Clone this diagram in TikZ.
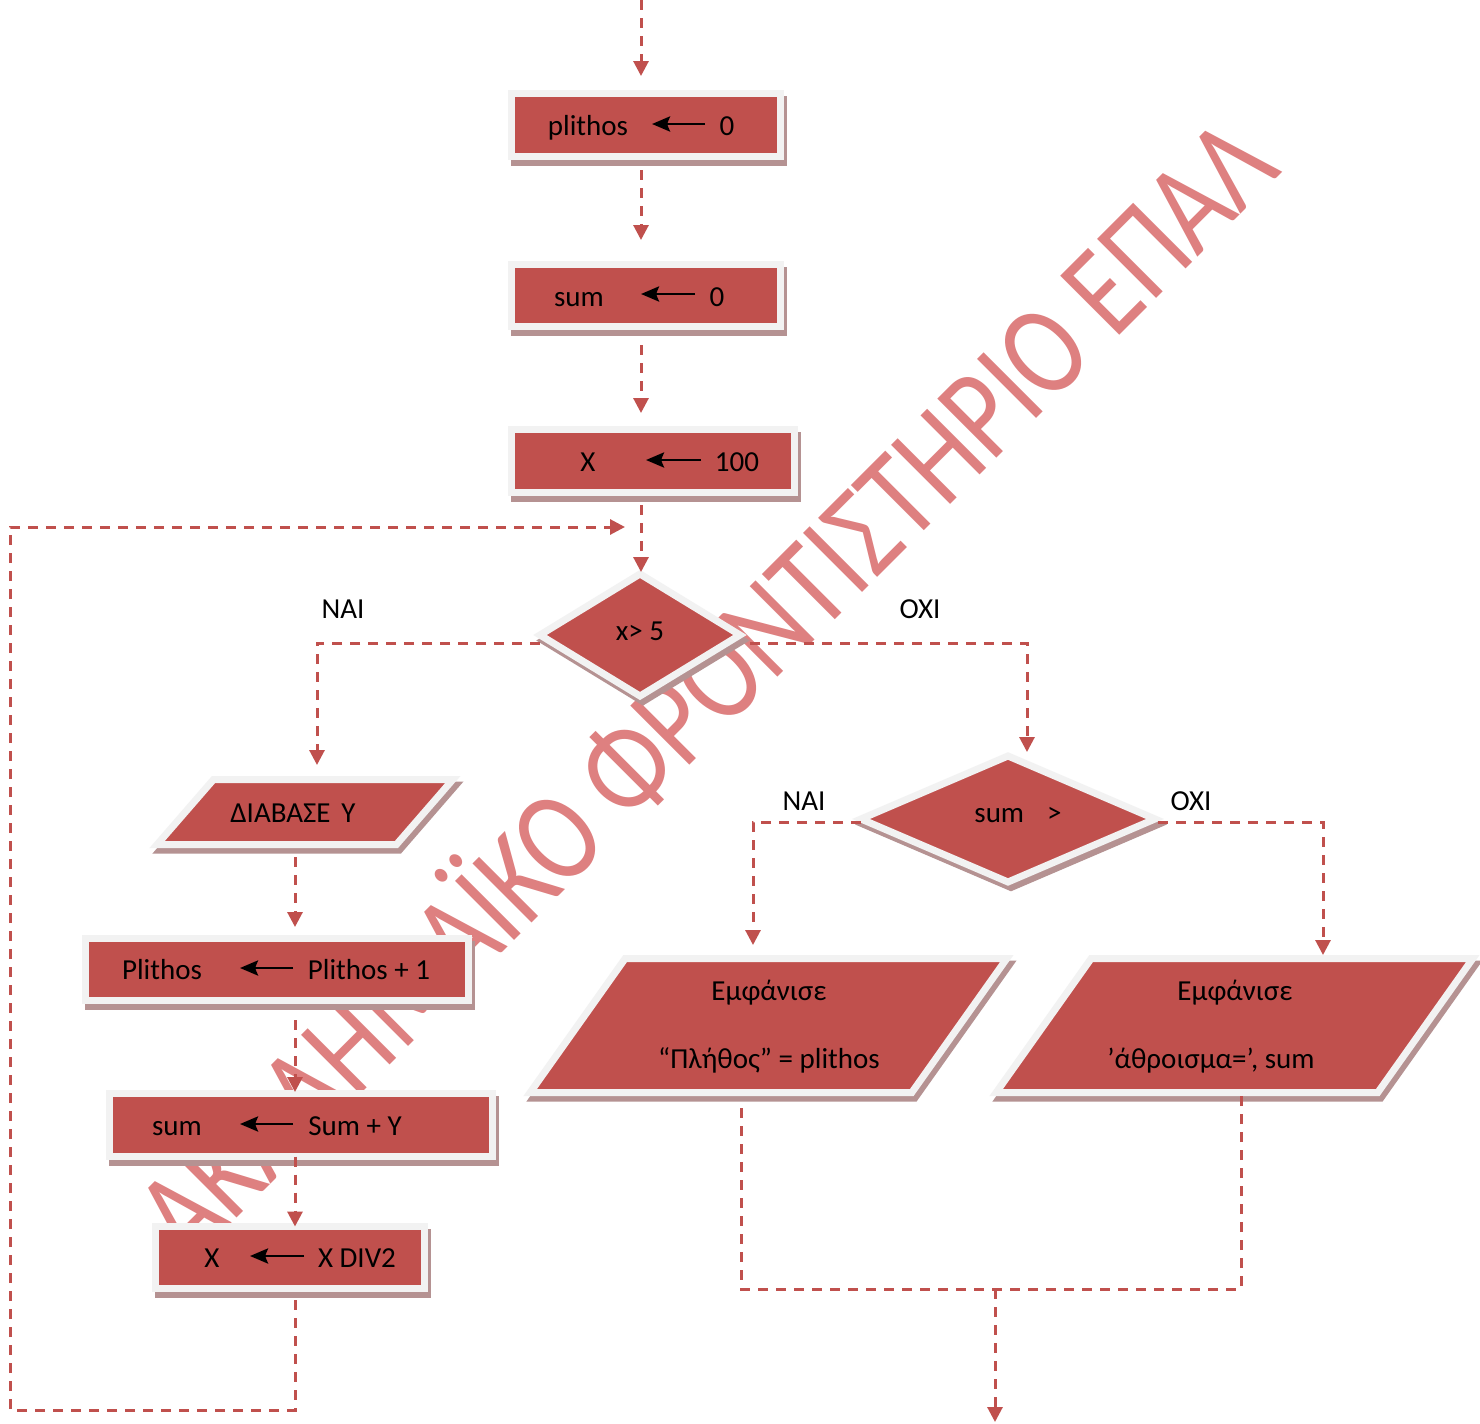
\documentclass[tikz,border=0pt]{standalone}
\usepackage{fontspec}
\setmainfont{Carlito}
\usepackage{graphicx}
\usetikzlibrary{shapes.geometric,arrows.meta,calc}
\definecolor{myred}{HTML}{C0504D}
\definecolor{bord}{HTML}{F2F2F2}
\definecolor{shad}{HTML}{B59292}
\definecolor{wmc}{HTML}{DE8080}
\tikzset{
  shp/.style={fill=myred, draw=bord, line width=3.5pt, outer sep=0pt, inner sep=0pt,
    preaction={fill=shad, draw=shad, line width=3.5pt, transform canvas={shift={(1.5pt,-2.75pt)}}}},
  boxn/.style={shp, rectangle},
  dia/.style={shp, diamond},
  anch/.style={rectangle, inner sep=0pt, outer sep=0pt},
  txt/.style={font=\fontsize{14.5}{17}\selectfont, inner sep=0pt, anchor=base, text=black},
  conn/.style={draw=myred, line width=1.5pt, dash pattern=on 5pt off 4pt, -{Triangle[length=7.5pt,width=7.5pt]}},
  plainc/.style={draw=myred, line width=1.5pt, dash pattern=on 5pt off 4pt},
  blk/.style={draw=black, line width=1.4pt, -{Stealth[length=9pt,width=7.5pt,inset=1.5pt]}},
  wmark/.style={font=\fontsize{52.5}{60}\selectfont, text=wmc, rotate=45, anchor=base east, inner sep=0pt},
}
\begin{document}
\begin{tikzpicture}[x=0.5pt,y=-0.5pt]
\useasboundingbox (0,0) rectangle (1480,1424);
\fill[white] (0,0) rectangle (1480,1424);
% watermark
\node[wmark] (wm) at (1283,172) {\scalebox{1}[1.24]{ΑΚΑΔΗΜΑΪΚΟ ΦΡΟΝΤΙΣΤΗΡΙΟ ΕΠΑΛ}};
% shapes
\node[boxn, minimum width=134.5pt, minimum height=31.5pt] (b1) at (646,125) {};
\node[boxn, minimum width=134.5pt, minimum height=31pt] (b2) at (646,295.5) {};
\node[boxn, minimum width=141.5pt, minimum height=31.5pt] (b3) at (653,461) {};
\node[dia, minimum width=100pt, minimum height=61pt] (d1) at (640,635) {};
\node[anch, minimum width=147.85pt, minimum height=32.5pt] (p1) at (305,812) {};
\path[shp] (p1.south west) -- ([xshift=28.2pt]p1.north west) -- (p1.north east) -- ([xshift=-28.2pt]p1.south east) -- cycle;
\node[boxn, minimum width=191.5pt, minimum height=31pt] (b4) at (277,969.5) {};
\node[boxn, minimum width=191.5pt, minimum height=31.5pt] (b5) at (301,1125) {};
\node[boxn, minimum width=134.5pt, minimum height=31pt] (b6) at (290,1257.5) {};
\node[dia, minimum width=147pt, minimum height=63pt] (d2) at (1008,819) {};
\node[anch, minimum width=238.3pt, minimum height=67pt] (p2) at (768.5,1025.5) {};
\path[shp] (p2.south west) -- ([xshift=47.5pt]p2.north west) -- (p2.north east) -- ([xshift=-47.5pt]p2.south east) -- cycle;
\node[anch, minimum width=238.3pt, minimum height=67pt] (p3) at (1234.5,1025.5) {};
\path[shp] (p3.south west) -- ([xshift=47.5pt]p3.north west) -- (p3.north east) -- ([xshift=-47.5pt]p3.south east) -- cycle;
% texts
\node[txt] (t1a) at (588,135) {plithos};
\node[txt] (t1b) at (727,135) {0};
\node[txt] (t2a) at (579,306) {sum};
\node[txt] (t2b) at (717,306) {0};
\node[txt] (t3a) at (588,471) {X};
\node[txt] (t3b) at (737,471) {100};
\node[txt] (t4) at (640,640) {x> 5};
\node[txt] (t5) at (293,822) {ΔΙΑΒΑΣΕ\hspace{5.5pt}Υ};
\node[txt] (t6a) at (162,979) {Plithos};
\node[txt] (t6b) at (369,979) {Plithos + 1};
\node[txt] (t7a) at (177,1135) {sum};
\node[txt] (t7b) at (355,1135) {Sum + Y};
\node[txt] (t8a) at (212,1267) {X};
\node[txt] (t8b) at (357,1267) {X DIV2};
\node[txt] (t9) at (1018,822) {sum\hspace{11.5pt}>};
\node[txt] (t10a) at (769,1000) {Εμφάνισε};
\node[txt] (t10b) at (769,1068) {“Πλήθος” = plithos};
\node[txt] (t11a) at (1235,1000) {Εμφάνισε};
\node[txt] (t11b) at (1211,1068) {’άθροισμα=’, sum};
\node[txt] (l1) at (343,618) {ΝΑΙ};
\node[txt] (l2) at (920,618) {ΟΧΙ};
\node[txt] (l3) at (804,810) {ΝΑΙ};
\node[txt] (l4) at (1191,810) {ΟΧΙ};
% arrows inside boxes
\coordinate (a1t) at (705,124); \coordinate (a1h) at (652,124);
\coordinate (a2t) at (695,294); \coordinate (a2h) at (641,294);
\coordinate (a3t) at (701,460); \coordinate (a3h) at (646,460);
\coordinate (a4t) at (293,968); \coordinate (a4h) at (240,968);
\coordinate (a5t) at (293,1124); \coordinate (a5h) at (240,1124);
\coordinate (a6t) at (304,1256); \coordinate (a6h) at (250,1256);
\draw[blk] (a1t) -- (a1h);
\draw[blk] (a2t) -- (a2h);
\draw[blk] (a3t) -- (a3h);
\draw[blk] (a4t) -- (a4h);
\draw[blk] (a5t) -- (a5h);
\draw[blk] (a6t) -- (a6h);
% connector coordinates
\coordinate (top) at (641,0);
\coordinate (nl1) at (317,643);
\coordinate (nr1) at (1027,643);
\coordinate (nl2) at (753,822);
\coordinate (nr2) at (1323,822);
\coordinate (lc) at (295,1410);
\coordinate (lq) at (10,1410);
\coordinate (lr) at (10,527);
\coordinate (loopend) at (625,527);
\coordinate (bl) at (741,1289);
\coordinate (br) at (1241,1289);
\coordinate (bm) at (995,1289);
\coordinate (fin) at (995,1422);
% connectors
\draw[conn, shorten >=8.75pt] (top) -- (top |- b1.north);
\draw[conn, shorten <=6.75pt, shorten >=12.25pt] (b1.south -| top) -- (b2.north -| top);
\draw[conn, shorten <=9.25pt, shorten >=8.25pt] (b2.south -| top) -- (b3.north -| top);
\draw[conn, shorten <=6.25pt, shorten >=1pt] (b3.south -| top) -- (d1.north -| top);
\draw[conn, shorten >=7.25pt] (d1.west |- nl1) -- (nl1) -- (nl1 |- p1.north);
\draw[conn, shorten <=5pt, shorten >=2pt] (d1.east |- nr1) -- (nr1) -- (nr1 |- d2.north);
\draw[conn, shorten >=6.75pt] (d2.west |- nl2) -- (nl2) -- (nl2 |- p2.north);
\draw[conn, shorten <=1.5pt, shorten >=1.75pt] (d2.east |- nr2) -- (nr2) -- (nr2 |- p3.north);
\draw[conn, shorten <=6.25pt, shorten >=5.75pt] (p1.south -| lc) -- (b4.north -| lc);
\draw[conn, shorten <=9.75pt, shorten >=0.75pt] (b4.south -| lc) -- (b5.north -| lc);
\draw[conn] (b5.south -| lc) -- (b6.north -| lc);
\draw[conn, shorten <=5.75pt] (b6.south -| lc) -- (lc) -- (lq) -- (lr) -- (loopend);
\draw[plainc, shorten <=7.75pt] (p2.south -| bl) -- (bl) -- (br) -- (p3.south -| br);
\draw[conn] (bm) -- (fin);
\end{tikzpicture}
\end{document}
